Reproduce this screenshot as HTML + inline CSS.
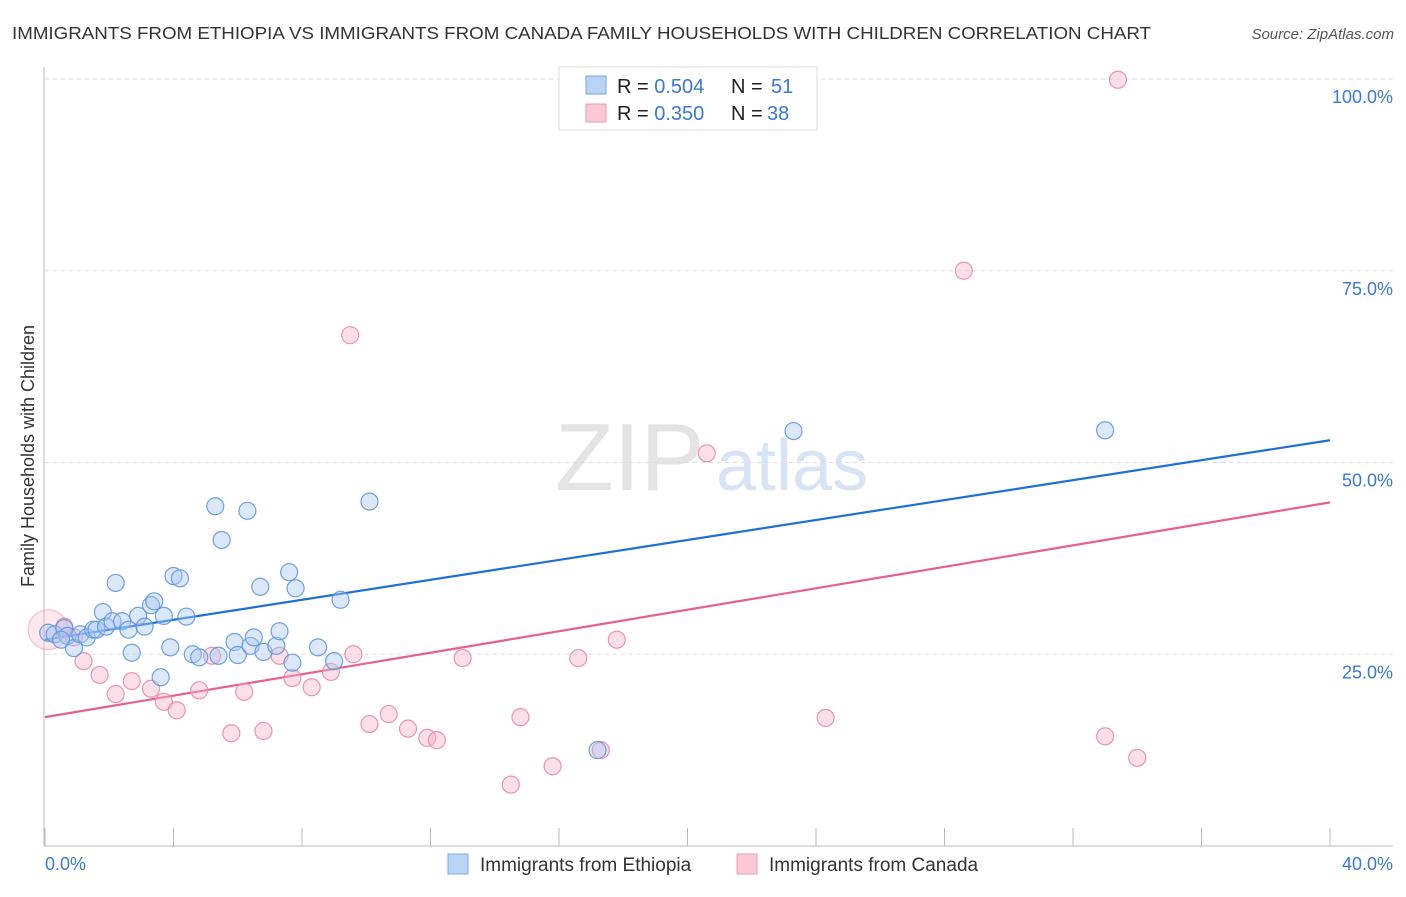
<!DOCTYPE html>
<html><head><meta charset="utf-8"><style>
body{margin:0;background:#fff;font-family:"Liberation Sans",sans-serif}
svg text{font-family:"Liberation Sans",sans-serif}
</style></head><body>
<svg id="chart" width="1406" height="892" xmlns="http://www.w3.org/2000/svg">
<text x="12" y="39" font-size="17.5" fill="#333" textLength="1139" lengthAdjust="spacingAndGlyphs">IMMIGRANTS FROM ETHIOPIA VS IMMIGRANTS FROM CANADA FAMILY HOUSEHOLDS WITH CHILDREN CORRELATION CHART</text>
<text x="1394" y="39" font-size="15" fill="#555" font-style="italic" text-anchor="end">Source: ZipAtlas.com</text>
<text x="555" y="490" font-size="96" fill="#e4e4e4" font-family="Liberation Serif">ZIP</text>
<text x="716" y="490" font-size="72" fill="#d6e4f5">atlas</text>
<text transform="translate(34,456) rotate(-90)" font-size="18" fill="#333" text-anchor="middle">Family Households with Children</text>
<g id="grid"></g><g id="axes"></g><g id="lines"></g><g id="pts"></g>
<g>
<rect x="559" y="67" width="258" height="63" fill="#fff" stroke="#ddd"/>
<rect x="586" y="76" width="20" height="18" fill="#b9d3f5" stroke="#7aa6e6"/>
<rect x="586" y="104" width="20" height="18" fill="#fbc8d6" stroke="#ec9db4"/>
<text x="617" y="93" font-size="20" fill="#222">R = <tspan fill="#3a78d6">0.504</tspan><tspan x="731">N = </tspan><tspan x="771" fill="#3a78d6">51</tspan></text>
<text x="617" y="120" font-size="20" fill="#222">R = <tspan fill="#3a78d6">0.350</tspan><tspan x="731">N = </tspan><tspan x="767" fill="#3a78d6">38</tspan></text>
</g>
<g>
<rect x="448" y="854" width="20" height="20" fill="#b9d3f5" stroke="#7aa6e6"/>
<text x="480" y="871" font-size="19" fill="#333">Immigrants from Ethiopia</text>
<rect x="737" y="854" width="20" height="20" fill="#fbc8d6" stroke="#ec9db4"/>
<text x="769" y="871" font-size="19" fill="#333">Immigrants from Canada</text>
</g>
<text x="45" y="870" font-size="18" fill="#3a78d6">0.0%</text>
<text x="1393" y="870" font-size="18" fill="#3a78d6" text-anchor="end">40.0%</text>
</svg>
<script>
const yTicks=[25,50,75,100];
const yTickLabels=["25.0%","50.0%","75.0%","100.0%"];
const xTicks=[0,4,8,12,16,20,24,28,32,36,40];
const ethX=[0.1,0.3,0.6,0.7,0.9,1.1,1.3,1.5,1.8,1.6,1.9,2.1,2.2,2.4,2.6,2.7,2.9,3.1,3.3,3.4,3.6,3.7,3.9,4.0,4.2,4.4,4.6,4.8,5.3,5.4,5.5,5.9,6.0,6.3,6.4,6.5,6.7,6.8,7.2,7.3,7.6,7.7,7.8,8.5,9.0,9.2,10.1,17.2,23.3,33.0,0.5];
const ethY=[27.8,27.6,28.4,27.4,25.8,27.6,27.2,28.2,30.5,28.2,28.6,29.3,34.3,29.3,28.2,25.2,30.0,28.6,31.4,31.9,22.0,30.0,25.9,35.2,34.9,29.9,25.0,24.6,44.3,24.8,39.9,26.6,24.9,43.7,26.1,27.2,33.8,25.3,26.1,28.0,35.7,23.9,33.6,25.9,24.1,32.1,44.9,12.5,54.1,54.2,26.9];
const canX=[0.1,0.6,0.9,1.2,1.7,2.2,2.7,3.3,3.7,4.1,4.8,5.2,5.8,6.2,6.8,7.3,7.7,8.3,8.9,9.5,9.6,10.1,10.7,11.3,11.9,12.2,13.0,14.5,14.8,15.8,16.6,17.3,17.8,20.6,24.3,28.6,33.0,33.4,34.0];
const canY=[28.2,28.6,27.2,24.1,22.3,19.8,21.5,20.5,18.8,17.7,20.3,24.8,14.7,20.1,15.0,24.8,21.9,20.7,22.7,66.6,25.0,15.9,17.2,15.3,14.1,13.8,24.5,8.0,16.8,10.4,24.5,12.5,26.9,51.2,16.7,75.0,14.3,99.9,11.5];
const ethTrend=[26.9,52.9];
const canTrend=[16.8,44.8];
const NS="http://www.w3.org/2000/svg";
const sx=v=>45+v*32.125, sy=v=>846-v*7.67;
function mk(t,a,p){const e=document.createElementNS(NS,t);for(const k in a)e.setAttribute(k,a[k]);document.getElementById(p).appendChild(e);return e;}
yTicks.forEach((v,i)=>{
 const g=mk('line',{x1:45,x2:1393,y1:sy(v),y2:sy(v),stroke:'#ddd','stroke-dasharray':'4,4'},'grid');
 
 
 const t=mk('text',{x:1393,y:sy(v)+24,'font-size':18,fill:'#3a78d6','text-anchor':'end'},'grid');
 t.textContent=yTickLabels[i];
 
 
});
let a=mk('line',{x1:44,x2:44,y1:67,y2:846,stroke:'#bbb'},'axes');


a=mk('line',{x1:44,x2:1393,y1:846,y2:846,stroke:'#bbb'},'axes');


xTicks.forEach(v=>{const t=mk('line',{x1:sx(v),x2:sx(v),y1:828,y2:846,stroke:'#bbb'},'axes');
 
 });
function pts(X,Y,fill,stroke,name){X.forEach((x,i)=>{
 const big=(name==='canada-point'&&i===0);
 const r=big?20:8.5;
 const c=mk('circle',{cx:sx(x),cy:sy(Y[i]),r:r,fill:fill,'fill-opacity':big?0.3:0.42,stroke:stroke,'stroke-opacity':big?0.5:0.9,'stroke-width':1.2},'pts');
 
 });}
pts(canX,canY,'#f7b3c6','#e98aa6','canada-point');
pts(ethX,ethY,'#a9c8f2','#5f97e0','ethiopia-point');
let l=mk('line',{x1:sx(0),x2:sx(40),y1:sy(ethTrend[0]),y2:sy(ethTrend[1]),stroke:'#1f6fd6','stroke-width':2.2},'lines');


l=mk('line',{x1:sx(0),x2:sx(40),y1:sy(canTrend[0]),y2:sy(canTrend[1]),stroke:'#e8608a','stroke-width':2.2},'lines');


</script>
</body></html>
